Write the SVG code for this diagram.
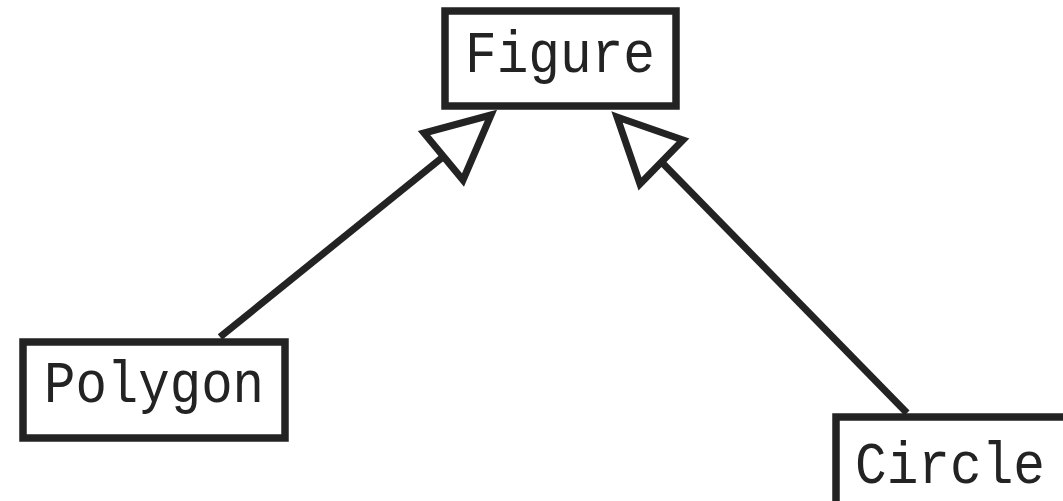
<svg xmlns="http://www.w3.org/2000/svg" width="1063" height="501" viewBox="0 0 1063 501">
<style>
.box{fill:#fff;stroke:#232323;stroke-width:7.5}
.lbl{font-family:"Liberation Mono","DejaVu Sans Mono",monospace;font-size:60px;fill:#232323;text-anchor:middle}
.edge{stroke:#232323;stroke-width:7;fill:none}
.head{fill:#fff;stroke:#232323;stroke-width:7;stroke-linejoin:miter}
</style>
<rect width="1063" height="501" fill="#fff"/>
<g id="connectors">
<line class="edge" x1="220" y1="337" x2="443.5" y2="156.5"/>
<polygon class="head" points="491,115 424,133 463,180"/>
<line class="edge" x1="907" y1="413" x2="661.5" y2="162"/>
<polygon class="head" points="617,117 683,140 640,184"/>
</g>
<g id="figure">
<rect class="box" x="445" y="11" width="231" height="95"/>
<text class="lbl" x="560" y="72" textLength="190" lengthAdjust="spacingAndGlyphs">Figure</text>
</g>
<g id="polygon">
<rect class="box" x="23" y="342" width="262" height="96"/>
<text class="lbl" x="154" y="402" textLength="220" lengthAdjust="spacingAndGlyphs">Polygon</text>
</g>
<g id="circle">
<rect class="box" x="836" y="417" width="231" height="95"/>
<text class="lbl" x="950" y="483" font-size="58" textLength="190" lengthAdjust="spacingAndGlyphs">Circle</text>
</g>
</svg>
